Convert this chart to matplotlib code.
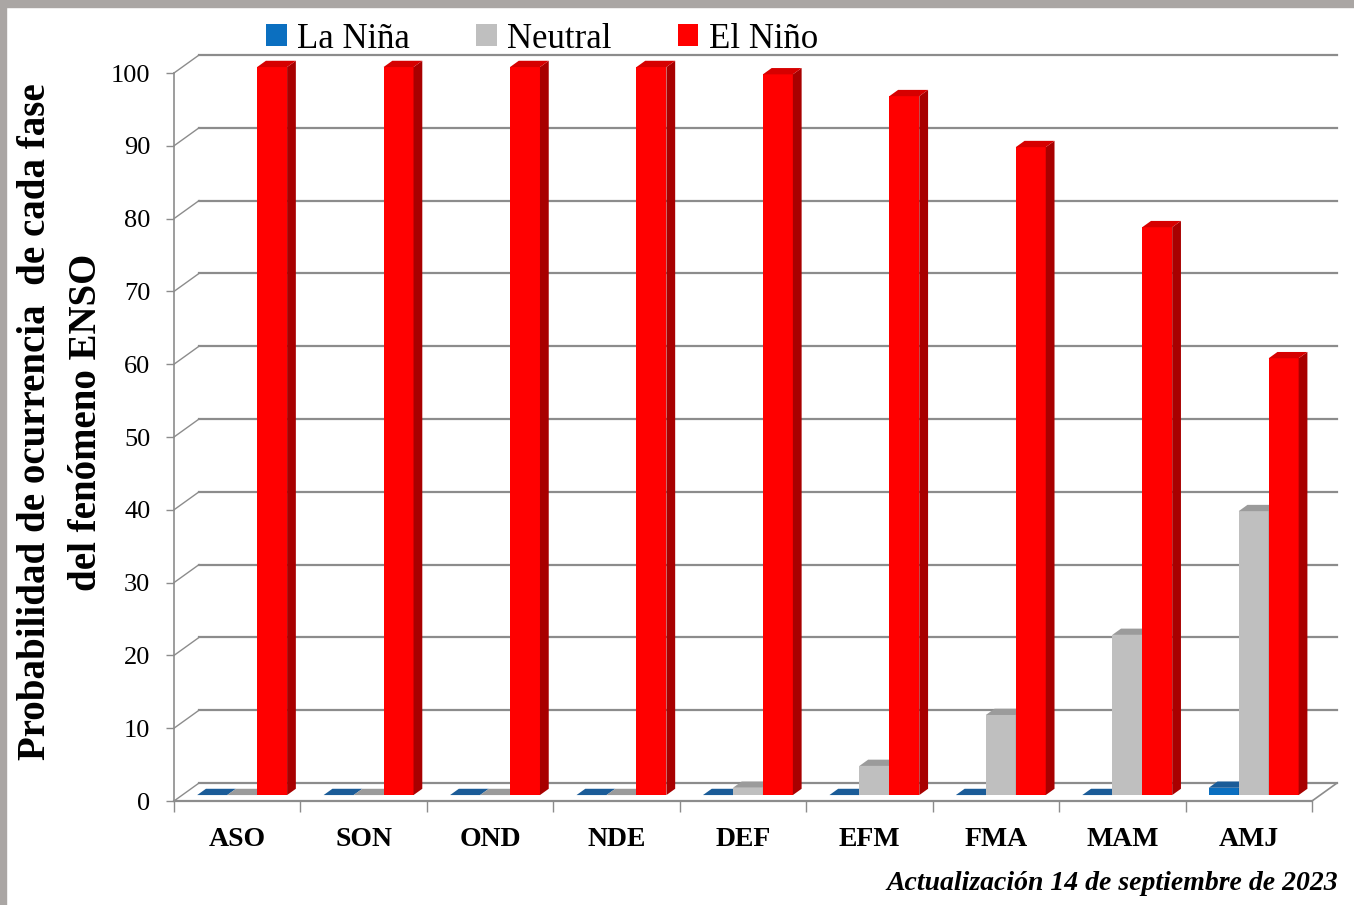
import matplotlib.pyplot as plt
from matplotlib.patches import Polygon, Rectangle, Patch

# Data
categories = ["ASO", "SON", "OND", "NDE", "DEF", "EFM", "FMA", "MAM", "AMJ"]
la_nina = [0, 0, 0, 0, 0, 0, 0, 0, 1]
neutral = [0, 0, 0, 0, 1, 4, 11, 22, 39]
el_nino = [100, 100, 100, 100, 99, 96, 89, 78, 60]

series = [la_nina, neutral, el_nino]
names = ["La Niña", "Neutral", "El Niño"]
front_colors = ["#0b6fc0", "#bfbfbf", "#ff0000"]
top_colors = ["#1b5c98", "#9b9b9b", "#d60000"]
side_colors = ["#0a4a80", "#8c8c8c", "#a80000"]

grid_color = "#8c8c8c"
serif = ["Liberation Serif", "DejaVu Serif"]

# 3D look: depth offsets in data units
DX = 0.198
DY = 2.47
f0 = 0.33   # depth position of bar front face
bd = 0.35   # bar depth
w = 0.237   # bar width
off = 0.118

fig = plt.figure(figsize=(13.54, 9.05), dpi=100)
fig.patch.set_facecolor("white")

# gray frame (top and left)
fig.patches.append(Rectangle((0, 1 - 7 / 905), 1, 7 / 905, transform=fig.transFigure,
                             color="#aaa6a4", zorder=0))
fig.patches.append(Rectangle((0, 0), 6 / 1354, 1, transform=fig.transFigure,
                             color="#aaa6a4", zorder=0))

ax = fig.add_axes([174 / 1354, (905 - 801) / 905, 1138 / 1354, 728 / 905])
ax.set_xlim(0, len(categories))
ax.set_ylim(0, 100)
ax.patch.set_alpha(0)

n = len(categories)

# back wall, left wall and floor
for v in range(0, 101, 10):
    ax.plot([DX, n + DX], [v + DY, v + DY], color=grid_color, lw=1.6, zorder=1, clip_on=False)
    ax.plot([0, DX], [v, v + DY], color=grid_color, lw=1.0, zorder=1, clip_on=False)
ax.plot([n, n + DX], [0, DY], color=grid_color, lw=1.2, zorder=1, clip_on=False)

# bars
for c in range(n):
    for i, s in enumerate(series):
        v = s[c]
        x0 = c + off + i * w + f0 * DX
        b = f0 * DY
        t = v + b
        z = 3 + c * 3 + i
        front = Polygon([(x0, b), (x0 + w, b), (x0 + w, t), (x0, t)],
                        closed=True, fc=front_colors[i], ec="none", zorder=z, clip_on=False)
        side = Polygon([(x0 + w, b), (x0 + w + bd * DX, b + bd * DY),
                        (x0 + w + bd * DX, t + bd * DY), (x0 + w, t)],
                       closed=True, fc=side_colors[i], ec="none", zorder=z, clip_on=False)
        top = Polygon([(x0, t), (x0 + w, t), (x0 + w + bd * DX, t + bd * DY), (x0 + bd * DX, t + bd * DY)],
                      closed=True, fc=top_colors[i], ec="none", zorder=z, clip_on=False)
        if v > 0:
            ax.add_patch(front)
            ax.add_patch(side)
        ax.add_patch(top)

# axes styling
for sp in ["top", "right"]:
    ax.spines[sp].set_visible(False)
ax.spines["left"].set_color(grid_color)
ax.spines["bottom"].set_color(grid_color)
ax.spines["left"].set_linewidth(1.2)
ax.spines["bottom"].set_linewidth(1.6)

ax.set_yticks(range(0, 101, 10))
ax.tick_params(axis="y", length=6, width=1.0, color=grid_color, pad=11, labelsize=19)
for lab in ax.get_yticklabels():
    lab.set_fontfamily(serif)

ax.set_xticks(range(0, n + 1))
ax.set_xticklabels([])
ax.tick_params(axis="x", which="major", length=8, width=1.0, color=grid_color)
ax.set_xticks([c + 0.5 for c in range(n)], minor=True)
ax.set_xticklabels(categories, minor=True, fontfamily=serif, fontweight="bold", fontsize=20)
ax.tick_params(axis="x", which="minor", length=0, pad=19)

# y label (two lines)
fig.text(36 / 1354, 1 - 422 / 905, "Probabilidad de ocurrencia  de cada fase", rotation=90,
         ha="center", va="center", fontsize=28, fontweight="bold", family=serif)
fig.text(87 / 1354, 1 - 422 / 905, "del fenómeno ENSO", rotation=90,
         ha="center", va="center", fontsize=28, fontweight="bold", family=serif)

# legend
handles = [Patch(facecolor=front_colors[i], edgecolor="none", label=names[i]) for i in range(3)]
leg = fig.legend(handles=handles, loc="center", bbox_to_anchor=(542 / 1354, 1 - 39 / 905), ncol=3,
                 frameon=False, prop={"family": serif, "size": 25},
                 handlelength=0.6, handleheight=0.6, handletextpad=0.3, columnspacing=1.9)

# footnote
fig.text(1338 / 1354, 1 - 883 / 905, "Actualización 14 de septiembre de 2023", ha="right", va="center",
         fontsize=20, fontweight="bold", fontstyle="italic", family=serif)

fig.savefig("out.png", dpi=100)
